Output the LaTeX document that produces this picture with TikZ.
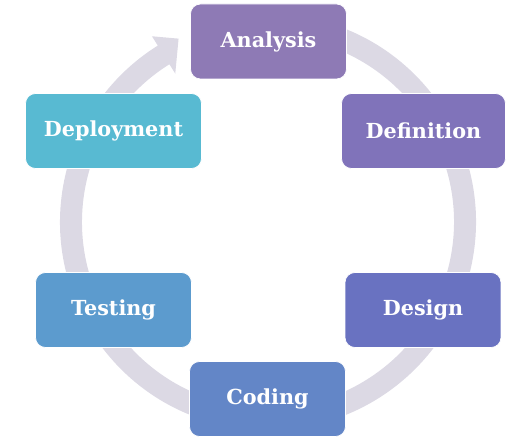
\documentclass[tikz,border=0pt]{standalone}
\usepackage{fontspec}
\setmainfont{DejaVu Serif}
\definecolor{ringgray}{HTML}{DCD9E4}
\definecolor{analysisc}{HTML}{8E7AB5}
\definecolor{definitionc}{HTML}{8073BA}
\definecolor{designc}{HTML}{6972C1}
\definecolor{codingc}{HTML}{6386C7}
\definecolor{testingc}{HTML}{5C9BCE}
\definecolor{deploymentc}{HTML}{58BAD2}

\begin{document}
\begin{tikzpicture}[x=0.02cm,y=0.02cm,
  phase/.style={rectangle,rounded corners=0.2cm,minimum width=3.12cm,minimum height=1.5cm,
    draw=white,line width=0.4pt,text=white,font=\fontsize{11.8}{14}\selectfont\bfseries}]
  \useasboundingbox (0,0) rectangle (530,442);
  % the cycle ring with its arrow head
  \begin{scope}[shift={(268,220)}]
    \fill[ringgray] (80:208) arc[start angle=80,end angle=-238,radius=208]
      -- (-238:219) -- (-244:204) -- (-238:175) -- (-238:186)
      arc[start angle=-238,end angle=80,radius=186] -- cycle;
  \end{scope}
  \node[phase,fill=analysisc] (analysis) at (268.5,400.5) {Analysis};
  \node[phase,fill=definitionc,minimum width=3.28cm] (definition) at (423.5,311) {Definition};
  \node[phase,fill=designc] (design) at (423,132) {Design};
  \node[phase,fill=codingc] (coding) at (267.5,43) {Coding};
  \node[phase,fill=testingc] (testing) at (113.5,132) {Testing};
  \node[phase,fill=deploymentc,minimum width=3.52cm] (deployment) at (113.5,311) {Deployment};
\end{tikzpicture}
\end{document}
